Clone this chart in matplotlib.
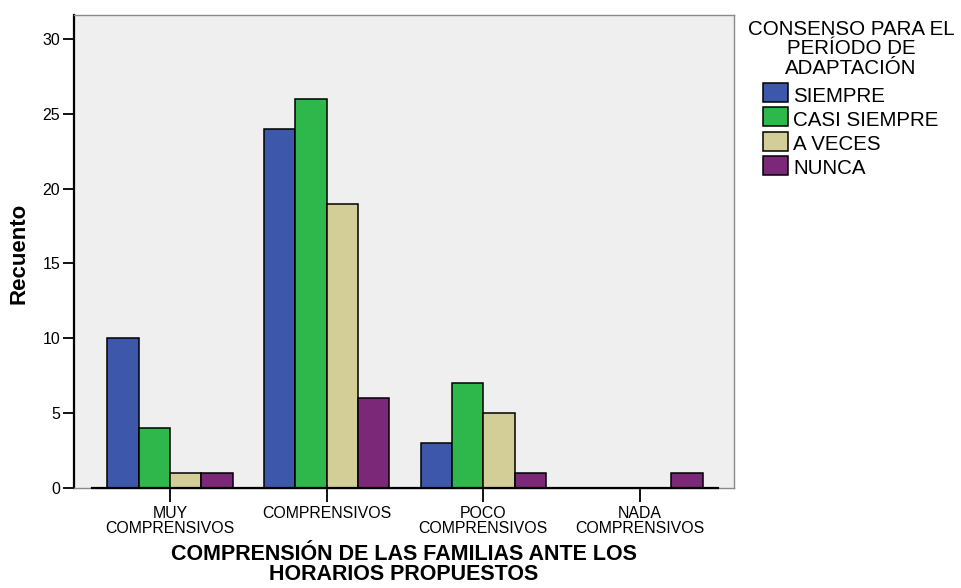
import numpy as np
import matplotlib
matplotlib.use('Agg')
import matplotlib.pyplot as plt
from matplotlib.patches import Rectangle

plt.rcParams['font.family'] = ['Liberation Sans', 'DejaVu Sans']

# datos del gráfico
categorias = ['MUY\nCOMPRENSIVOS', 'COMPRENSIVOS', 'POCO\nCOMPRENSIVOS', 'NADA\nCOMPRENSIVOS']
series = ['SIEMPRE', 'CASI SIEMPRE', 'A VECES', 'NUNCA']
siempre = [10, 24, 3, 0]
casi_siempre = [4, 26, 7, 0]
a_veces = [1, 19, 5, 0]
nunca = [1, 6, 1, 1]
colores = ['#3d58ab', '#2eb84b', '#d3ce97', '#7c2879']

valores = [siempre, casi_siempre, a_veces, nunca]

fig = plt.figure(figsize=(9.62, 5.88), dpi=100)
W, H = 962, 588
ax = fig.add_axes([74 / W, 100 / H, 660 / W, 473 / H])
ax.set_facecolor('#efefef')

x = np.arange(len(categorias))
ancho = 0.2
for i, (vals, col) in enumerate(zip(valores, colores)):
    offs = (i - 1.5) * ancho
    ax.bar(x + offs, vals, width=ancho, color=col, edgecolor='black', linewidth=1.1, zorder=3)

ax.set_xlim(-0.613, 3.6)
ax.set_ylim(0, 31.6)
ax.set_yticks(range(0, 31, 5))
ax.set_xticks(x)
ax.set_xticklabels(categorias, fontsize=11.4, linespacing=0.96)
ax.tick_params(axis='y', length=8, width=1.3, labelsize=11.5, pad=2, color='black')
ax.tick_params(axis='x', length=10, width=1.3, pad=3, color='black')

for s in ['top', 'right', 'bottom']:
    ax.spines[s].set_color('#8a8a8a')
    ax.spines[s].set_linewidth(1.0)
ax.spines['left'].set_linewidth(1.6)
ax.spines['left'].set_color('black')
# linea del eje x (negra) solo en el rango de categorias
ax.plot([-0.5, 3.5], [0, 0], color='black', linewidth=1.6, zorder=4, clip_on=False)

ax.set_ylabel('Recuento', fontsize=16, fontweight='bold')
ax.yaxis.set_label_coords(-0.068, 0.495)
ax.set_xlabel('COMPRENSIÓN DE LAS FAMILIAS ANTE LOS\nHORARIOS PROPUESTOS',
              fontsize=15.5, fontweight='bold', linespacing=0.95, labelpad=6)

# leyenda dibujada a mano
titulo = ['CONSENSO PARA EL', 'PERÍODO DE', 'ADAPTACIÓN']
for j, t in enumerate(titulo):
    fig.text(851 / W, 1 - (35 + 19.5 * j) / H, t, ha='center', va='baseline', fontsize=14.8)
for j, (nombre, col) in enumerate(zip(series, colores)):
    top = 83 + 24.3 * j
    fig.add_artist(Rectangle((763 / W, 1 - (top + 19) / H), 25 / W, 19 / H,
                             transform=fig.transFigure, facecolor=col,
                             edgecolor='black', linewidth=1.1))
    fig.text(793 / W, 1 - (101.5 + 24.3 * j) / H, nombre, ha='left', va='baseline', fontsize=14.8)

fig.savefig('out.png', dpi=100)
